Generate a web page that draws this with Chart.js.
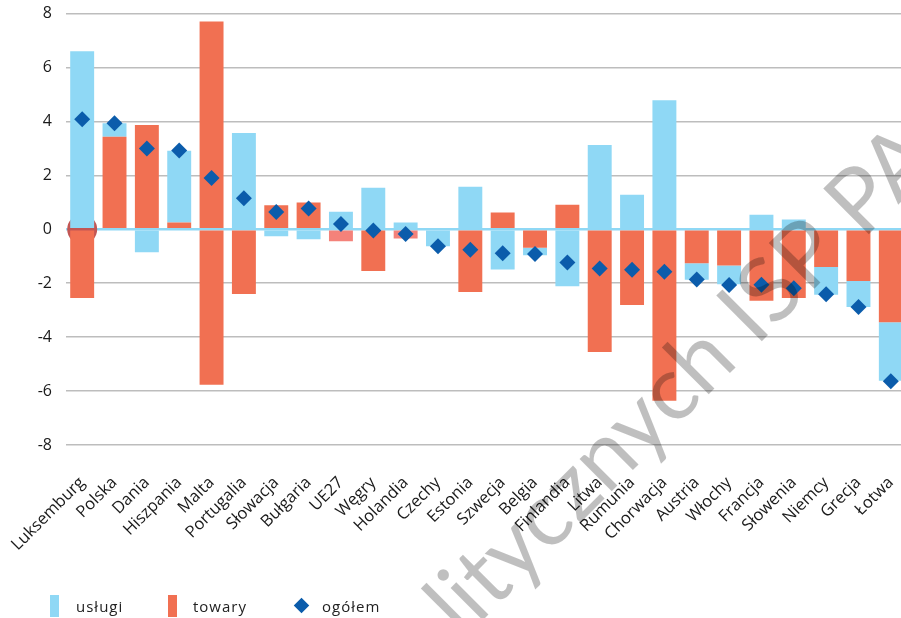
<!DOCTYPE html>
<html>
<head>
<meta charset="utf-8">
<script src="https://cdn.jsdelivr.net/npm/chart.js@4"></script>
<style>
  body { margin: 0; background: #fff; overflow: hidden; }
  #wrap { position: relative; width: 901px; height: 618px; overflow: hidden; }
  #chart { position: absolute; left: 0; top: -10px; }
  #legend { position: absolute; left: 0; top: 0; font-family: 'Open Sans', sans-serif; font-size: 15px; color: #222; }
  .item { position: absolute; white-space: nowrap; }
  .box { position: absolute; width: 9px; height: 22px; }
  .dia { position: absolute; width: 11px; height: 11px; background: #0b5cab; transform: rotate(45deg); }
</style>
</head>
<body>
<div id="wrap">
  <canvas id="chart" width="922" height="628"></canvas>
  <div id="legend">
    <div class="box" style="left:50px;top:595px;background:#8fd8f5"></div>
    <div class="item" style="left:76px;top:596px;letter-spacing:1px">usługi</div>
    <div class="box" style="left:168px;top:595px;background:#f17052"></div>
    <div class="item" style="left:193px;top:596px;letter-spacing:1px">towary</div>
    <div class="dia" style="left:296px;top:600px"></div>
    <div class="item" style="left:322px;top:596px;letter-spacing:1px">ogółem</div>
  </div>
</div>
<script>
// kraje
var kraje = ['Luksemburg', 'Polska', 'Dania', 'Hiszpania', 'Malta', 'Portugalia', 'Słowacja', 'Bułgaria', 'UE27', 'Węgry',
    'Holandia', 'Czechy', 'Estonia', 'Szwecja', 'Belgia', 'Finlandia', 'Litwa', 'Rumunia', 'Chorwacja', 'Austria',
    'Włochy', 'Francja', 'Słowenia', 'Niemcy', 'Grecja', 'Łotwa'];

var uslugi = [6.6, 0.5, -0.85, 2.66, 7.71, 3.57, -0.26, -0.37, 0.65, 1.54,
    0.25, -0.63, 1.58, -1.49, -0.28, -2.11, 3.13, 1.28, 4.79, -0.61,
    -0.7, 0.54, 0.36, -1.03, -0.96, -2.17];

var towary = [-2.55, 3.43, 3.87, 0.25, -5.77, -2.4, 0.89, 0.99, -0.44, -1.55,
    -0.34, 0, -2.33, 0.62, -0.68, 0.91, -4.55, -2.81, -6.36, -1.26,
    -1.34, -2.65, -2.55, -1.4, -1.92, -3.45];

var ogolem = [4.08, 3.93, 3.0, 2.92, 1.9, 1.15, 0.64, 0.77, 0.2, -0.04,
    -0.17, -0.63, -0.76, -0.89, -0.92, -1.23, -1.45, -1.5, -1.57, -1.86,
    -2.07, -2.06, -2.19, -2.41, -2.88, -5.64];

// czerwony znacznik przy Luksemburgu
var znacznik = [0, null, null, null, null, null, null, null, null, null, null, null, null,
    null, null, null, null, null, null, null, null, null, null, null, null, null];

var yTicks = [-8, -6, -4, -2, 0, 2, 4, 6, 8];

var niebieski = '#8fd8f5';
var pomaranczowy = '#f17052';
var jasnyCzerwony = '#f4827a';

var watermark = {
    id: 'watermark',
    afterDraw: function(chart) {
        var ctx = chart.ctx;
        var pre = 'Instytut Studiów Politycznych ';
        var text = pre + 'ISP PAN';
        ctx.save();
        ctx.font = '90px Lato';
        ctx.fillStyle = 'rgba(0,0,0,0.25)';
        ctx.textBaseline = 'alphabetic';
        ctx.translate(765, 348);
        ctx.rotate(-Math.PI / 4);
        var off = ctx.measureText(pre).width + ctx.measureText('I').width / 2;
        ctx.fillText(text, -off, 0);
        ctx.restore();
    }
};

var ctx = document.getElementById('chart').getContext('2d');
var chart = new Chart(ctx, {
    type: 'bar',
    data: {
        labels: kraje,
        datasets: [{
            label: 'towary',
            data: towary,
            stack: 'bars',
            order: 1,
            backgroundColor: function(c) {
                if (c.dataIndex === 8 || c.dataIndex === 10) return jasnyCzerwony;
                return pomaranczowy;
            },
            barPercentage: 0.74,
            categoryPercentage: 1
        }, {
            label: 'usługi',
            data: uslugi,
            stack: 'bars',
            order: 1,
            backgroundColor: function(c) {
                return c.dataIndex === 4 ? pomaranczowy : niebieski;
            },
            barPercentage: 0.74,
            categoryPercentage: 1
        }, {
            type: 'line',
            label: 'ogółem',
            data: ogolem,
            stack: 'total',
            order: 0,
            showLine: false,
            pointStyle: 'rectRot',
            pointRadius: 8,
            pointBackgroundColor: '#0b5cab',
            pointBorderWidth: 0
        }, {
            type: 'line',
            label: 'znacznik',
            data: znacznik,
            stack: 'mark',
            order: 2,
            showLine: false,
            pointStyle: 'circle',
            pointRadius: 15,
            pointBackgroundColor: '#c25654',
            pointBorderWidth: 0
        }]
    },
    options: {
        responsive: false,
        animation: false,
        layout: { padding: { top: 2, right: 0, bottom: 0, left: 0 } },
        plugins: {
            legend: { display: false },
            tooltip: { enabled: false }
        },
        scales: {
            x: {
                stacked: true,
                grid: { display: false },
                border: { display: false },
                ticks: {
                    autoSkip: false,
                    minRotation: 45,
                    maxRotation: 45,
                    padding: 20,
                    color: '#1a1a1a',
                    font: { family: 'Open Sans', size: 16.5 }
                },
                afterFit: function(s) {
                    s.height = 173;
                    s.paddingLeft = 0;
                    s.paddingRight = 0;
                }
            },
            y: {
                stacked: true,
                min: -8,
                max: 8,
                afterBuildTicks: function(s) {
                    s.ticks = yTicks.map(function(v) { return { value: v }; });
                },
                grid: {
                    drawTicks: false,
                    color: function(c) { return c.tick && c.tick.value === 0 ? niebieski : '#bdbdbd'; },
                    lineWidth: function(c) { return c.tick && c.tick.value === 0 ? 2.5 : 1.5; }
                },
                border: { display: false },
                ticks: {
                    padding: 14,
                    color: '#1a1a1a',
                    font: { family: 'Open Sans', size: 16 }
                },
                afterFit: function(s) { s.width = 66; }
            }
        }
    },
    plugins: [watermark]
});
</script>
</body>
</html>
